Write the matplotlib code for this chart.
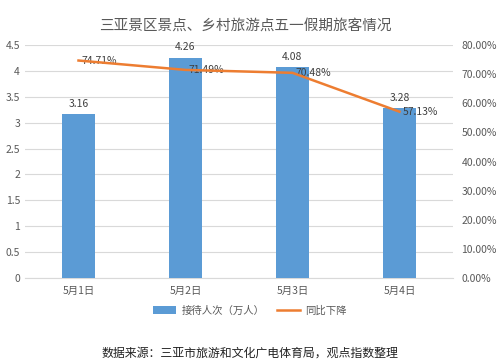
import matplotlib
matplotlib.use("Agg")
from matplotlib import pyplot as plt
import numpy as np

plt.rcParams['font.family'] = ['Noto Sans CJK SC', 'DejaVu Sans']

days = ['5月1日', '5月2日', '5月3日', '5月4日']
visitors = [3.16, 4.26, 4.08, 3.28]
decline = [74.71, 71.49, 70.48, 57.13]

gray = '#595959'
fig = plt.figure(figsize=(5, 3.61), dpi=100)
ax = fig.add_axes([0.05, 0.23, 0.856, 0.645])
ax2 = ax.twinx()

x = np.arange(len(days))
bars = ax.bar(x, visitors, width=0.31, color='#5b9bd5', zorder=3, label='接待人次（万人）')
ln, = ax2.plot(x, decline, color='#ed7d31', lw=1.8, zorder=4, label='同比下降')

for xi, v in zip(x, visitors):
    ax.text(xi, v + 0.1, '%.2f' % v, ha='center', va='bottom', fontsize=7.5, color='#404040')
for xi, v in zip(x, decline):
    ax2.text(xi + 0.03, v, '%.2f%%' % v, ha='left', va='center', fontsize=7.5, color='#404040')

ax.set_xlim(-0.5, 3.5)
ax.set_ylim(0, 4.5)
ax.set_yticks(np.arange(0, 4.51, 0.5))
ax.set_yticklabels(['0', '0.5', '1', '1.5', '2', '2.5', '3', '3.5', '4', '4.5'])
ax2.set_ylim(0, 80)
ax2.set_yticks(np.arange(0, 81, 10))
ax2.set_yticklabels(['%.2f%%' % v for v in np.arange(0, 81, 10)])
ax.set_xticks(x)
ax.set_xticklabels(days)

ax.grid(axis='y', color='#d9d9d9', lw=0.8, zorder=0)
for a in (ax, ax2):
    for s in a.spines.values():
        s.set_visible(False)
    a.tick_params(length=0, labelsize=7.5, colors=gray)
ax.spines['bottom'].set_visible(True)
ax.spines['bottom'].set_color('#d9d9d9')
ax.tick_params(axis='x', pad=6)
ax2.tick_params(axis='y', pad=6)

fig.text(0.49, 0.93, '三亚景区景点、乡村旅游点五一假期旅客情况', ha='center', va='center',
         fontsize=10.5, color=gray)
fig.legend([bars, ln], ['接待人次（万人）', '同比下降'], loc='center', bbox_to_anchor=(0.5, 0.14),
           ncol=2, frameon=False, fontsize=7.5, labelcolor=gray, handlelength=2.2,
           handletextpad=0.5, columnspacing=1.2)
fig.text(0.5, 0.022, '数据来源：三亚市旅游和文化广电体育局，观点指数整理', ha='center', va='center',
         fontsize=8.6, color='#222222')

plt.savefig('out.png', dpi=100)
